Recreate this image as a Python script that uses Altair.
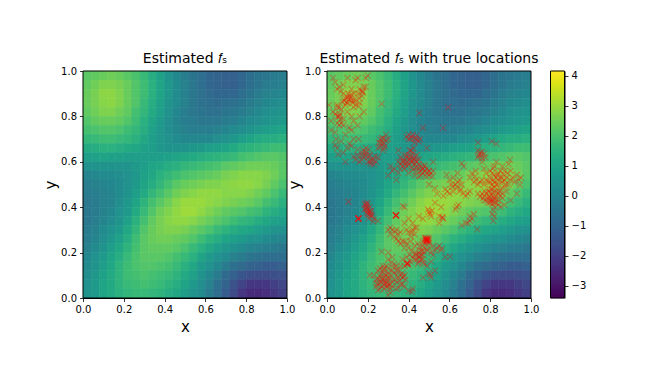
import altair as alt
import pandas as pd

# Estimated field, top row (y near 1) to bottom row (y near 0), 25 columns left to right
field = [
[2.2,2.3,2.4,2.5,2.4,2.2,2.0,1.7,1.3,0.9,0.5,0.1,-0.2,-0.5,-0.7,-0.9,-1.0,-1.1,-1.1,-0.9,-0.7,-0.5,-0.4,-0.3,-0.2],
[2.3,2.5,2.7,2.7,2.6,2.4,2.1,1.8,1.4,1.0,0.6,0.2,-0.1,-0.4,-0.7,-0.9,-1.0,-1.1,-1.1,-0.9,-0.7,-0.5,-0.3,-0.2,-0.1],
[2.4,2.6,2.85,2.85,2.7,2.4,2.1,1.8,1.4,1.0,0.6,0.2,-0.1,-0.4,-0.6,-0.8,-0.9,-0.9,-0.9,-0.7,-0.5,-0.3,-0.1,0.0,0.1],
[2.4,2.6,2.8,2.85,2.7,2.4,2.1,1.7,1.3,0.9,0.5,0.2,-0.1,-0.4,-0.6,-0.7,-0.8,-0.7,-0.6,-0.5,-0.3,-0.1,0.1,0.2,0.3],
[2.3,2.5,2.7,2.7,2.5,2.3,1.9,1.6,1.2,0.8,0.4,0.1,-0.2,-0.4,-0.5,-0.6,-0.6,-0.5,-0.4,-0.3,-0.1,0.1,0.3,0.4,0.5],
[2.1,2.3,2.4,2.4,2.3,2.1,1.8,1.4,1.0,0.7,0.3,0.0,-0.2,-0.3,-0.4,-0.4,-0.4,-0.3,-0.2,0.0,0.2,0.3,0.5,0.6,0.7],
[1.9,2.0,2.1,2.1,2.0,1.8,1.6,1.3,0.9,0.6,0.3,0.1,-0.1,-0.2,-0.2,-0.2,-0.1,0.0,0.2,0.3,0.5,0.7,0.8,0.9,1.0],
[1.6,1.7,1.8,1.8,1.7,1.6,1.4,1.1,0.8,0.6,0.4,0.2,0.1,0.1,0.1,0.1,0.3,0.4,0.6,0.8,1.0,1.2,1.3,1.3,1.4],
[1.2,1.3,1.4,1.4,1.3,1.2,1.1,0.9,0.8,0.6,0.5,0.5,0.5,0.6,0.7,0.8,0.9,1.0,1.2,1.4,1.5,1.6,1.7,1.8,1.8],
[0.8,0.9,1.0,0.9,0.9,0.8,0.8,0.8,0.8,0.8,0.9,1.0,1.1,1.2,1.3,1.4,1.5,1.6,1.7,1.9,2.0,2.1,2.2,2.2,2.1],
[0.4,0.5,0.5,0.5,0.5,0.5,0.7,0.8,1.0,1.1,1.3,1.4,1.6,1.7,1.8,1.9,2.0,2.2,2.3,2.4,2.5,2.5,2.5,2.4,2.2],
[0.0,0.1,0.2,0.2,0.3,0.4,0.6,0.9,1.1,1.4,1.6,1.8,2.0,2.1,2.2,2.3,2.4,2.6,2.7,2.8,2.8,2.8,2.7,2.5,2.2],
[-0.2,-0.1,0.0,0.1,0.2,0.4,0.7,1.0,1.3,1.6,1.9,2.2,2.4,2.5,2.6,2.7,2.7,2.8,2.85,2.9,2.9,2.8,2.6,2.3,2.0],
[-0.3,-0.2,-0.1,0.0,0.2,0.5,0.8,1.2,1.6,1.9,2.2,2.5,2.7,2.8,2.9,2.9,2.9,2.8,2.8,2.8,2.7,2.5,2.3,2.0,1.7],
[-0.4,-0.3,-0.1,0.0,0.3,0.6,1.0,1.5,1.9,2.2,2.5,2.8,3.0,3.0,3.0,2.9,2.8,2.7,2.6,2.5,2.4,2.2,1.9,1.7,1.4],
[-0.4,-0.3,-0.1,0.1,0.4,0.7,1.2,1.7,2.1,2.5,2.7,2.9,3.05,3.05,2.9,2.7,2.5,2.3,2.2,2.1,1.9,1.8,1.5,1.3,1.1],
[-0.4,-0.2,0.0,0.2,0.5,0.9,1.4,1.9,2.3,2.6,2.8,2.9,2.9,2.8,2.6,2.4,2.2,2.0,1.8,1.6,1.5,1.3,1.1,0.9,0.8],
[-0.3,-0.1,0.2,0.4,0.7,1.1,1.6,2.1,2.4,2.6,2.7,2.7,2.6,2.4,2.2,2.0,1.7,1.5,1.3,1.1,1.0,0.8,0.7,0.5,0.4],
[-0.2,0.0,0.3,0.6,0.9,1.3,1.8,2.2,2.4,2.5,2.5,2.4,2.3,2.1,1.8,1.5,1.3,1.0,0.8,0.7,0.5,0.4,0.2,0.1,0.0],
[-0.1,0.2,0.5,0.8,1.1,1.5,1.9,2.2,2.3,2.3,2.3,2.2,2.0,1.7,1.4,1.1,0.8,0.6,0.4,0.2,0.0,-0.1,-0.2,-0.3,-0.4],
[0.1,0.4,0.7,1.0,1.3,1.7,2.0,2.2,2.2,2.2,2.1,1.9,1.7,1.4,1.0,0.7,0.4,0.2,-0.1,-0.3,-0.5,-0.6,-0.7,-0.7,-0.7],
[0.2,0.5,0.8,1.1,1.5,1.8,2.0,2.1,2.1,2.0,1.9,1.7,1.4,1.1,0.7,0.4,0.1,-0.3,-0.6,-0.8,-1.0,-1.1,-1.2,-1.2,-1.1],
[0.3,0.6,0.9,1.2,1.5,1.8,1.9,2.0,1.9,1.8,1.7,1.5,1.2,0.9,0.5,0.1,-0.3,-0.8,-1.1,-1.4,-1.6,-1.7,-1.7,-1.6,-1.5],
[0.4,0.7,1.0,1.2,1.5,1.7,1.8,1.9,1.8,1.7,1.5,1.3,1.0,0.7,0.3,-0.1,-0.6,-1.0,-1.5,-1.9,-2.2,-2.2,-2.2,-2.0,-1.8],
[0.5,0.7,1.0,1.2,1.4,1.6,1.7,1.7,1.6,1.5,1.3,1.1,0.8,0.5,0.2,-0.3,-0.7,-1.2,-1.7,-2.2,-2.5,-2.5,-2.4,-2.2,-2.0],
]

top_left = [(.02,.78),(.03,.82),(.04,.73),(.05,.80),(.06,.93),(.07,.91),(.08,.94),(.09,.88),(.10,.86),(.11,.89),
(.12,.87),(.13,.84),(.14,.87),(.15,.90),(.16,.88),(.17,.91),(.175,.91),(.18,.93),(.19,.97),(.20,.98),(.07,.83),(.08,.79),
(.06,.80),(.05,.84),(.10,.82),(.12,.80),(.13,.78),(.15,.76),(.16,.80),(.11,.75),(.09,.72),(.08,.76),(.06,.76),(.03,.97),
(.04,.95),(.10,.97),(.12,.92),(.14,.96),(.058,.80),(.062,.81),(.10,.885),(.105,.875),(.115,.88),(.12,.895),(.09,.85),
(.085,.87),(.075,.865),(.14,.85),(.16,.86),(.155,.845),(.17,.89),(.06,.84),(.05,.85),(.065,.785),(.07,.77),(.268,.855),
(.452,.814),(.594,.84),(.569,.749),(.15,.97),(.01,.85),(.02,.74),(.05,.92),(.18,.82),(.19,.93),
(.105,.90),(.13,.87),(.095,.86),(.08,.90),(.132,.90),(.125,.86),(.05,.77),(.04,.81),(.175,.905),(.16,.92)]
mid_left = [(.04,.674),(.055,.633),(.05,.66),(.08,.64),(.10,.66),(.12,.67),(.13,.623),(.14,.61),(.15,.63),(.16,.60),(.17,.625),
(.18,.65),(.19,.645),(.194,.63),(.20,.62),(.21,.60),(.22,.61),(.227,.608),(.23,.59),(.24,.60),(.25,.62),(.17,.61),(.18,.625),
(.26,.667),(.27,.69),(.276,.703),(.28,.68),(.265,.68),(.29,.72),(.285,.67),(.26,.70),(.25,.66),(.30,.70),(.31,.58),(.30,.54),
(.32,.56),(.33,.57),(.19,.66),(.155,.70),(.13,.70),(.12,.74),(.11,.68),(.35,.65),(.15,.655),(.09,.60),(.07,.69),(.045,.70),
(.27,.705),(.28,.66),(.29,.695),(.255,.685),(.275,.65),(.205,.655),(.175,.64),(.21,.63),(.215,.59),(.235,.625),(.20,.60)]
center_top = [(.43,.703),(.39,.71),(.40,.70),(.42,.72),(.44,.70),(.45,.69),(.44,.715),(.47,.75),(.49,.66),(.41,.70),
(.38,.60),(.407,.608),(.374,.608),(.39,.62),(.40,.63),(.41,.65),(.42,.64),(.43,.62),(.44,.60),(.45,.59),(.40,.59),(.41,.60),
(.42,.60),(.43,.59),(.36,.62),(.35,.60),(.37,.58),(.38,.57),(.39,.58),(.415,.625),(.425,.61),(.435,.605),(.405,.615),(.395,.60),
(.456,.557),(.497,.557),(.46,.54),(.47,.55),(.48,.56),(.49,.55),(.50,.56),(.51,.55),(.47,.57),(.48,.58),(.44,.56),(.45,.535),
(.43,.54),(.49,.57),(.46,.58),(.50,.54),(.52,.60),(.40,.55),(.42,.565),(.34,.52),(.35,.55),(.36,.59),
(.43,.685),(.455,.70),(.415,.71),(.40,.72),(.385,.63),(.44,.63),(.45,.61),(.37,.60),(.415,.575),(.435,.575),(.405,.65),(.425,.66),
(.385,.59),(.36,.57),(.465,.565),(.445,.575),(.52,.56),(.485,.535),(.515,.535),(.475,.585)]
right = [(.66,.593),(.67,.58),(.64,.55),(.75,.64),(.755,.63),(.76,.645),(.745,.63),(.77,.635),(.74,.684),(.807,.69),(.83,.68),
(.815,.571),(.82,.58),(.80,.56),(.83,.60),(.897,.608),(.89,.59),(.90,.56),(.86,.58),(.76,.60),(.77,.57),(.78,.55),(.587,.542),
(.60,.52),(.62,.53),(.63,.50),(.64,.51),(.636,.49),(.65,.52),(.725,.535),(.73,.52),(.74,.50),(.71,.55),(.72,.51),(.70,.53),
(.815,.52),(.82,.51),(.83,.50),(.84,.52),(.85,.53),(.856,.527),(.86,.51),(.87,.52),(.88,.53),(.89,.50),(.90,.52),(.91,.53),
(.92,.51),(.93,.542),(.94,.52),(.946,.498),(.95,.53),(.80,.53),(.81,.50),(.82,.49),(.80,.48),(.79,.47),(.78,.46),(.77,.45),
(.76,.46),(.75,.446),(.74,.46),(.799,.432),(.80,.44),(.81,.43),(.82,.44),(.83,.45),(.79,.44),(.78,.43),(.83,.42),(.84,.43),
(.82,.42),(.80,.42),(.815,.388),(.82,.40),(.81,.37),(.815,.34),(.82,.36),(.85,.40),(.87,.41),(.90,.43),(.93,.46),(.88,.47),
(.86,.46),(.85,.48),(.70,.47),(.69,.46),(.668,.461),(.68,.45),(.65,.47),(.62,.47),(.60,.46),(.59,.47),(.58,.48),(.57,.45),
(.61,.50),(.83,.53),(.84,.55),(.85,.56),(.87,.56),(.76,.52),(.77,.50),(.75,.51),(.73,.56),(.78,.52),(.79,.51),(.80,.51),
(.82,.47),(.83,.47),(.81,.46),(.84,.46),(.80,.465),(.815,.445),(.805,.425),(.825,.435),(.795,.45),(.86,.44),
(.77,.43),(.775,.47),(.81,.415),(.84,.41),(.79,.42),(.765,.44),(.845,.47),(.85,.45),(.87,.49),(.81,.48),(.84,.50),(.875,.50),
(.835,.54),(.865,.545),(.885,.55),(.82,.54),(.81,.55),(.74,.62),(.76,.615),(.775,.62),(.74,.65),(.655,.48),(.615,.49),(.66,.50)]
column = [(.105,.424),(.154,.35),(.154,.35),(.154,.35),(.155,.351),(.153,.349),(.154,.351),(.194,.402),(.19,.41),(.20,.39),(.195,.42),
(.20,.37),(.21,.38),(.215,.375),(.22,.36),(.219,.366),(.23,.35),(.227,.336),(.205,.35),(.25,.34),(.19,.395),(.198,.385),(.21,.365),
(.185,.415),(.20,.415),(.185,.39),(.21,.40),(.215,.385),(.196,.375)]
middle = [(.338,.364),(.338,.364),(.338,.364),(.339,.365),(.337,.363),(.338,.365),(.371,.405),(.38,.40),(.505,.37),(.50,.38),(.51,.36),(.47,.35),(.45,.36),
(.55,.36),(.565,.355),(.565,.355),(.57,.35),(.56,.40),(.53,.42),(.54,.46),(.529,.483),(.50,.50),(.636,.402),(.645,.41),(.63,.39),(.701,.34),(.71,.35),
(.69,.33),(.68,.33),(.72,.37),(.737,.302),(.66,.32),(.55,.33),(.42,.33),(.40,.35),(.43,.31),(.495,.39),(.515,.385),(.70,.36)]
lower = [(.333,.292),(.32,.30),(.31,.31),(.30,.30),(.31,.28),(.33,.27),(.34,.26),(.35,.28),(.34,.30),(.36,.29),(.415,.288),(.40,.29),(.42,.30),(.41,.27),
(.43,.28),(.39,.30),(.38,.33),(.44,.31),(.382,.248),(.37,.25),(.36,.24),(.39,.24),(.40,.22),(.41,.25),(.38,.22),(.35,.25),
(.489,.256),(.489,.256),(.49,.26),(.485,.25),(.48,.255),(.495,.25),(.50,.26),(.485,.265),(.47,.25),(.49,.24),(.495,.265),(.48,.265),(.50,.245),
(.487,.252),(.492,.258),(.49,.252),(.483,.26),(.498,.255),(.47,.23),(.48,.22),(.49,.21),(.50,.22),(.51,.20),(.46,.21),(.45,.20),(.47,.19),
(.456,.182),(.45,.18),(.46,.17),(.44,.19),(.43,.17),(.45,.16),(.46,.19),(.44,.17),(.47,.17),(.48,.15),(.49,.14),(.51,.16),(.52,.19),
(.394,.153),(.394,.153),(.395,.154),(.393,.152),(.39,.15),(.40,.145),(.41,.16),(.42,.18),(.38,.14),(.37,.17),(.562,.219),(.55,.23),(.54,.22),(.53,.21),
(.52,.23),(.56,.21),(.603,.182),(.58,.18),(.505,.101),(.50,.11),(.51,.09),(.529,.12),(.47,.09),(.276,.123),(.28,.13),(.27,.11),(.29,.14),
(.26,.10),(.25,.12),(.268,.204),(.30,.20),(.32,.18),(.30,.17),(.325,.135),(.33,.15),(.32,.12),(.31,.10),(.33,.11),(.34,.10),(.35,.09),(.36,.10),
(.37,.11),(.374,.094),(.38,.10),(.35,.12),(.30,.09),(.29,.10),(.28,.09),(.27,.08),(.26,.07),(.25,.06),(.243,.065),(.24,.08),(.25,.085),(.293,.062),(.29,.07),
(.30,.06),(.28,.06),(.27,.05),(.31,.06),(.32,.07),(.33,.08),(.30,.05),(.29,.05),(.28,.04),(.31,.04),(.26,.04),(.27,.07),(.28,.075),(.295,.08),(.415,.028),
(.40,.03),(.42,.04),(.38,.05),(.36,.06),(.35,.045),(.30,.013),(.31,.025),(.21,.10),(.23,.10),(.24,.05),(.25,.035),(.36,.14),(.37,.06),(.34,.07),
(.265,.09),(.285,.105),(.30,.11),(.31,.085),(.32,.05),(.34,.04),(.275,.14),(.26,.13),(.30,.13),(.435,.20),(.445,.15),(.43,.19),(.47,.155),(.465,.205),(.475,.205),
(.34,.14),(.345,.125),(.315,.155),(.37,.09),(.355,.075),(.385,.08),(.39,.18),(.405,.19),(.415,.21),(.43,.23),(.445,.24),(.455,.225)]

cell_count = 25
tick_values = [0.0, 0.2, 0.4, 0.6, 0.8, 1.0]
colorbar_ticks = [-3, -2, -1, 0, 1, 2, 3, 4]
value_min, value_max = -3.4, 4.15
colorbar_steps = 227

FONT = "DejaVu Sans"
cells = pd.DataFrame([
    {"x0": c / cell_count, "x1": (c + 1) / cell_count,
     "y0": 1 - (r + 1) / cell_count, "y1": 1 - r / cell_count, "v": v}
    for r, row in enumerate(field) for c, v in enumerate(row)
])
points = pd.DataFrame(top_left + mid_left + center_top + right + column + middle + lower, columns=["x", "y"])
levels = pd.DataFrame([
    {"lo": value_min + (value_max - value_min) * i / colorbar_steps,
     "hi": value_min + (value_max - value_min) * (i + 1) / colorbar_steps}
    for i in range(colorbar_steps)
])
levels["mid"] = (levels.lo + levels.hi) / 2
frame = pd.DataFrame([{"x": 0, "x2": 1, "y": 0, "y2": 1}])

color_scale = alt.Scale(scheme="viridis", domain=[value_min, value_max])
W, H = 204, 227

def axis(name):
    return alt.Axis(title=name, values=tick_values, tickCount=len(tick_values), format=".1f", grid=False, tickSize=3.5,
                    tickColor="black", domainColor="black", labelColor="black", titleColor="black", labelFont=FONT,
                    titleFont=FONT, labelFontSize=10, titleFontSize=15, titleFontWeight="normal", labelPadding=3,
                    titlePadding=2 if name == "y" else 5, labelFlush=False, tickWidth=0.8)

def panel(title_text, with_points):
    xs = alt.X("x0:Q", scale=alt.Scale(domain=[0, 1], nice=False), axis=axis("x"))
    ys = alt.Y("y0:Q", scale=alt.Scale(domain=[0, 1], nice=False), axis=axis("y"))
    heat = alt.Chart(cells).mark_rect(clip=True, strokeWidth=0.6).encode(
        x=xs, x2="x1:Q", y=ys, y2="y1:Q",
        color=alt.Color("v:Q", scale=color_scale, legend=None),
        stroke=alt.Color("v:Q", scale=color_scale, legend=None),
    )
    layers = [heat]
    if with_points:
        layers.append(alt.Chart(points).mark_point(
            shape="M-1,-1L1,1M-1,1L1,-1", filled=False, color="#ff0000", size=36,
            strokeWidth=1.1, opacity=0.32, clip=True
        ).encode(x=alt.X("x:Q"), y=alt.Y("y:Q")))
    layers.append(alt.Chart(frame).mark_rect(filled=False, stroke="black", strokeWidth=1).encode(
        x=alt.X("x:Q"), x2="x2:Q", y=alt.Y("y:Q"), y2="y2:Q"))
    return alt.layer(*layers).properties(
        width=W, height=H,
        title=alt.TitleParams(title_text, font=FONT, fontSize=14, fontWeight="normal", color="black",
                              anchor="middle", offset=0),
    )

left = panel("Estimated 𝑓ₛ", False)
right_panel = panel("Estimated 𝑓ₛ with true locations", True)

spacer = alt.Chart(frame).mark_rect(opacity=0).encode(x=alt.value(0)).properties(width=1, height=H)

bar_y = alt.Y("lo:Q", scale=alt.Scale(domain=[value_min, value_max], nice=False, zero=False),
              axis=alt.Axis(title=None, orient="right", values=colorbar_ticks, tickCount=len(colorbar_ticks), format="d",
                            grid=False, tickSize=3.5, tickColor="black", domainColor="black", labelColor="black",
                            labelFont=FONT, labelFontSize=10, labelPadding=3, labelFlush=False, tickWidth=0.8,
                            labelOverlap=False))
bar = alt.Chart(levels).mark_rect(strokeWidth=0.5).encode(
    x=alt.value(0), x2=alt.value(14), y=bar_y, y2="hi:Q",
    color=alt.Color("mid:Q", scale=color_scale, legend=None),
    stroke=alt.Color("mid:Q", scale=color_scale, legend=None),
)
bar_frame = alt.Chart(pd.DataFrame([{"lo": value_min, "hi": value_max}])).mark_rect(
    filled=False, stroke="black", strokeWidth=1
).encode(x=alt.value(0), x2=alt.value(14), y=alt.Y("lo:Q"), y2="hi:Q")
colorbar = alt.layer(bar, bar_frame).properties(width=14, height=H)

chart = alt.hconcat(left, spacer, right_panel, colorbar, spacing=19.5, bounds="flush").properties(
    padding={"left": 35, "top": 44, "right": 5, "bottom": 5}, background="white"
).configure_view(stroke=None)

chart.save("out.html", embed_options={"renderer": "svg", "actions": False})
